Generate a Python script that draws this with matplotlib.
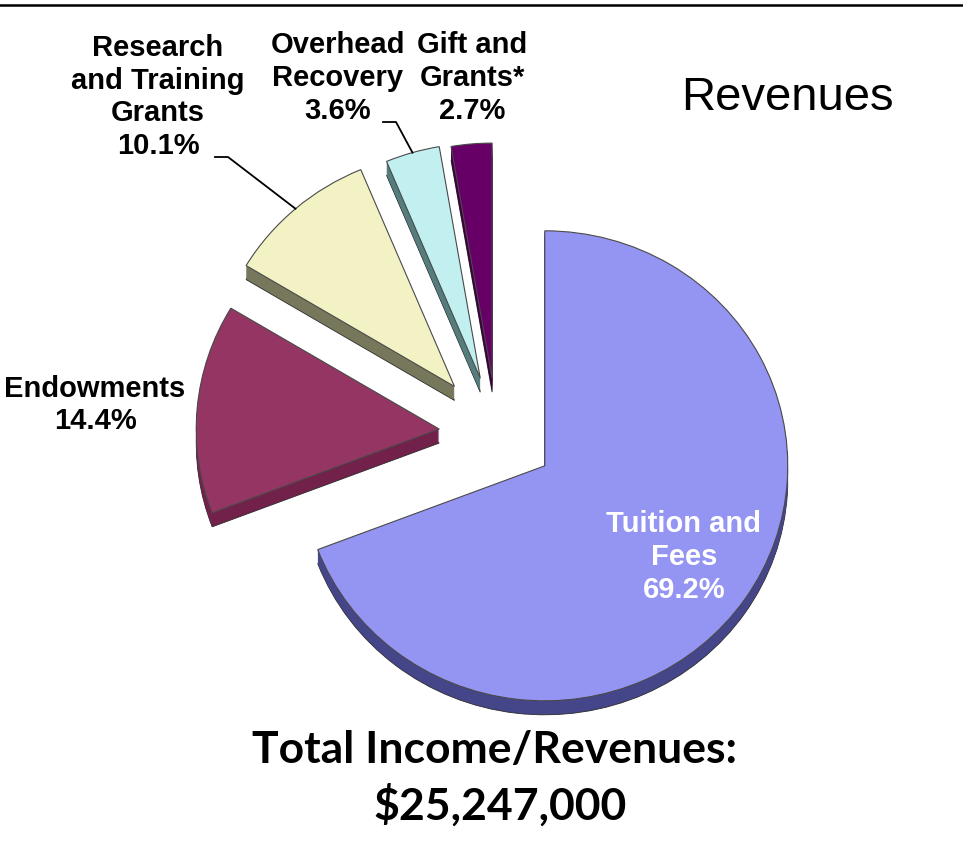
import matplotlib
matplotlib.use('Agg')
import numpy as np
from matplotlib import pyplot as plt

# Revenues breakdown
labels = ['Tuition and\nFees', 'Endowments', 'Research\nand Training\nGrants',
          'Overhead\nRecovery', 'Gift and\nGrants*']
shares = [69.2, 14.4, 10.1, 3.6, 2.7]
top_colors = ['#9494F2', '#953563', '#F2F2C4', '#C2F0F0', '#660066']
side_colors = ['#45458A', '#72214B', '#77775C', '#557D7D', '#3E003E']
title = 'Revenues'
total_line1 = 'Total Income/Revenues:'
total_line2 = '$25,247,000'

W, H = 963, 844
K = 243 / 235          # pie is a little wider than tall (3D tilt)
cx, cy = 497, 434      # pie centre in picture pixels (y down)
R = 243
explode = [58, 58, 65, 60, 58]
THICK = 14


def py(y):
    # picture pixel row -> data y
    return y * K


fig = plt.figure(figsize=(W / 100, H / 100), dpi=100)
ax = fig.add_axes([0, 0, 1, 1])

# side of the 3D pie: darker copies stacked below the top face
for k in range(THICK, 0, -1):
    ax.pie(shares, center=(cx, py(cy + k)), radius=R, explode=explode,
           colors=side_colors, startangle=270, counterclock=True,
           wedgeprops=dict(linewidth=0.6 if k == THICK else 0,
                           edgecolor='#2a2a2a' if k == THICK else 'none'))

wedges, _ = ax.pie(shares, center=(cx, py(cy)), radius=R, explode=explode,
                   colors=top_colors, startangle=270, counterclock=True,
                   wedgeprops=dict(linewidth=0.8, edgecolor='#4a4a4a'))

ax.set_xlim(0, W)
ax.set_ylim(py(H), 0)
ax.set_aspect('auto')
ax.axis('off')

# top rule
ax.axhline(py(5), color='black', lw=1.8)

lab_font = dict(family=['Liberation Sans', 'DejaVu Sans'], weight='bold', size=21,
                ha='center', va='center', linespacing=1.22)
lab_pos = [(684, 557), (95, 405), (158, 97), (338, 78), (472, 78)]
lab_col = ['white', 'black', 'black', 'black', 'black']
for lab, v, (x, y), c in zip(labels, shares, lab_pos, lab_col):
    ax.text(x, py(y), f'{lab}\n{v:.1f}%', color=c, **lab_font)

# leader lines from labels to the wedge arcs
leaders = {2: (215, 157), 3: (383, 122)}
for i, (lx, ly) in leaders.items():
    w = wedges[i]
    mid = np.deg2rad((w.theta1 + w.theta2) / 2)
    ex = w.center[0] + w.r * np.cos(mid)
    ey = w.center[1] + w.r * np.sin(mid)
    ax.plot([lx, lx + 13, ex], [py(ly), py(ly), ey], color='black', lw=1.3)

ax.text(787, py(98), title, family=['Liberation Sans', 'DejaVu Sans'], size=34,
        ha='center', va='center')
ax.text(495, py(750), total_line1, family=['Lato', 'DejaVu Sans'], weight='bold',
        size=32, ha='center', va='center')
ax.text(500, py(805), total_line2, family=['Lato', 'DejaVu Sans'], weight='bold',
        size=32, ha='center', va='center')

fig.savefig('out.png', dpi=100)
